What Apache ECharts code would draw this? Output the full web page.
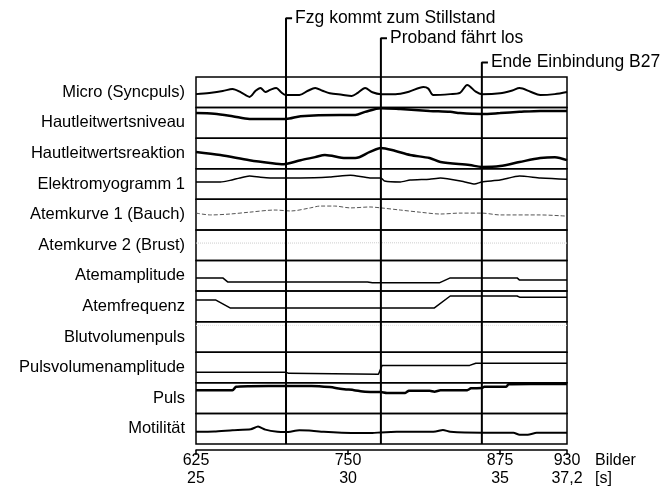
<!DOCTYPE html>
<html><head><meta charset="utf-8">
<script src="https://cdn.jsdelivr.net/npm/echarts@6/dist/echarts.min.js"></script>
<style>html,body{margin:0;padding:0;background:#fff}#c{width:672px;height:496px}</style>
</head><body><div id="c"></div>
<script>
// ---------- DATA ----------
const channelNames = ['Micro (Syncpuls)','Hautleitwertsniveau','Hautleitwertsreaktion','Elektromyogramm 1','Atemkurve 1 (Bauch)','Atemkurve 2 (Brust)','Atemamplitude','Atemfrequenz','Blutvolumenpuls','Pulsvolumenamplitude','Puls','Motilität'];
// values: [frame, level within channel track (0 = bottom, 100 = top)]
const micro = [[625,44],[636,48],[647,54],[655,61],[662,50],[669,35],[674,55],[678,64],[682,51],[686,58],[691,64],[695,50],[699,41],[710,41],[717,55],[723,64],[729,55],[735,47],[745,42],[753,38],[758,48],[764,64],[770,50],[777,44],[789,44],[800,52],[812,67],[816,62],[820,41],[834,44],[842,48],[848,74],[855,52],[860,44],[875,47],[885,56],[891,64],[900,52],[908,41],[920,44],[930,51]];
const hautNiveau = [[625,82],[640,80],[655,72],[669,63],[699,63],[711,72],[743,76],[756,76],[764,86],[777,98],[793,95],[817,89],[834,86],[842,82],[860,79],[875,82],[891,86],[908,89],[930,89]];
const hautReaktion = [[625,55],[645,45],[669,28],[686,19],[697,15],[711,28],[723,38],[731,45],[748,35],[756,35],[768,55],[777,68],[789,58],[801,45],[817,35],[826,22],[850,12],[860,6],[875,9],[891,22],[908,35],[920,38],[930,28]];
const emg = [[625,57],[645,57],[653,62],[661,70],[669,76],[678,72],[686,70],[699,70],[711,70],[735,73],[752,79],[768,70],[777,70],[780,60],[793,57],[801,63],[817,66],[826,70],[846,57],[854,50],[860,57],[875,63],[891,76],[908,70],[930,66]];
const atem1 = [[625,55],[637,49],[653,52],[669,58],[690,65],[703,62],[719,72],[727,78],[739,78],[752,72],[768,75],[777,72],[793,65],[809,58],[826,52],[842,55],[860,55],[875,49],[908,49],[930,45]];
const atem2 = [[625,57],[700,57],[777,58],[860,57],[930,57]];
const atemAmp = [[625,43],[647,43],[651,30],[766,30],[770,27],[825,27],[834,43],[889,43],[891,36],[930,36]];
const atemFreq = [[625,71],[641,71],[653,45],[821,45],[834,84],[889,84],[891,80],[930,80]];
const blutPuls = [[625,88],[700,88],[777,88],[930,88]];
const pulsAmp = [[625,35],[699,35],[701,31],[775,28],[778,57],[850,57],[855,64],[930,64]];
const puls = [[625,76],[655,76],[658,87],[669,89],[700,90],[720,90],[735,86],[745,80],[755,76],[764,71],[777,70],[782,67],[797,67],[800,74],[817,74],[821,71],[826,76],[848,76],[851,82],[860,83],[862,87],[880,87],[882,95],[900,96],[930,96]];
const motil = [[625,40],[640,41],[655,45],[670,48],[676,57],[682,47],[692,40],[699,39],[710,45],[718,44],[730,40],[745,37],[760,36],[770,36],[777,38],[790,40],[810,40],[822,41],[828,46],[834,40],[860,37],[886,37],[891,30],[899,31],[905,37],[930,37]];
const eventFrames = [699, 777, 860];
const eventNames = ['Fzg kommt zum Stillstand','Proband fährt los','Ende Einbindung B27'];
const frameTicks = [625, 750, 875, 930];
const secondTicks = ['25', '30', '35', '37,2'];

// ---------- LAYOUT / STYLE ----------
const FONT = 'Liberation Sans, Arial, sans-serif';
const LEFT = 196, WIDTH = 371, TOP = 77, BOTTOM = 444;
const rowH = (BOTTOM - TOP) / channelNames.length;
const traces = [
  {d: micro, w: 2, smooth: 0.3},
  {d: hautNiveau, w: 2.5, smooth: 0.3},
  {d: hautReaktion, w: 2.5, smooth: 0.3},
  {d: emg, w: 1.5, smooth: 0.2},
  {d: atem1, w: 1, smooth: 0.3, color: '#555', type: 'dashed'},
  {d: atem2, w: 1, smooth: 0, color: '#ccc', type: 'dotted'},
  {d: atemAmp, w: 1.5, smooth: 0},
  {d: atemFreq, w: 1.5, smooth: 0},
  {d: blutPuls, w: 1, smooth: 0, color: '#e4e4e4', type: 'dotted'},
  {d: pulsAmp, w: 1.5, smooth: 0},
  {d: puls, w: 2.5, smooth: 0.2},
  {d: motil, w: 2, smooth: 0.2}
];
const eventLevels = [0.959, 0.914, 0.859]; // label heights of event markers (fraction of overlay height)

const grid = [], xAxis = [], yAxis = [], series = [];
channelNames.forEach((name, i) => {
  grid.push({left: LEFT, width: WIDTH, top: TOP + i * rowH, height: rowH, show: true, borderColor: '#000', borderWidth: 1.5});
  const last = i === channelNames.length - 1;
  xAxis.push({
    gridIndex: i, type: 'value', min: 625, max: 930, interval: 125,
    show: last, position: 'bottom', offset: 6,
    axisLine: {show: true, onZero: false, lineStyle: {color: '#000', width: 1.5}},
    axisTick: {show: true, length: 5, lineStyle: {color: '#000', width: 1.5}},
    splitLine: {show: false},
    axisLabel: {
      show: true, margin: 2, color: '#000', fontSize: 16, fontFamily: FONT, lineHeight: 18,
      showMinLabel: true, showMaxLabel: true,
      formatter: v => { const k = frameTicks.indexOf(v); return k < 0 ? '' : v + '\n' + secondTicks[k]; }
    },
    name: last ? 'Bilder\n[s]' : '', nameLocation: 'end', nameGap: 28,
    nameTextStyle: {color: '#000', fontSize: 16, fontFamily: FONT, align: 'left', verticalAlign: 'top', lineHeight: 18, padding: [2, 0, 0, 0]}
  });
  yAxis.push({
    gridIndex: i, type: 'value', min: 0, max: 100, interval: 50,
    axisLine: {show: false}, axisTick: {show: false}, splitLine: {show: false},
    axisLabel: {margin: 11, color: '#000', fontSize: 16.5, fontFamily: FONT, formatter: v => v === 50 ? name : ''}
  });
  const t = traces[i];
  series.push({
    type: 'line', xAxisIndex: i, yAxisIndex: i, data: t.d, showSymbol: false, smooth: t.smooth,
    lineStyle: {color: t.color || '#000', width: t.w, type: t.type || 'solid'}, silent: true
  });
});

// overlay grid for event markers
const ov = channelNames.length;
grid.push({left: LEFT, width: WIDTH, top: 0, height: BOTTOM, show: false});
xAxis.push({gridIndex: ov, type: 'value', min: 625, max: 930, show: false});
yAxis.push({gridIndex: ov, type: 'value', min: 0, max: 1, show: false});
eventFrames.forEach((f, k) => {
  series.push({
    type: 'line', xAxisIndex: ov, yAxisIndex: ov, showSymbol: false, z: 5, silent: true,
    data: [[f, 0], [f, eventLevels[k]], [f + 5, eventLevels[k]]],
    lineStyle: {color: '#000', width: 2},
    endLabel: {show: true, formatter: eventNames[k], color: '#000', fontSize: 17.5, fontFamily: FONT, distance: 3}
  });
});

const chart = echarts.init(document.getElementById('c'), null, {renderer: 'canvas'});
chart.setOption({animation: false, backgroundColor: '#fff', grid, xAxis, yAxis, series});
</script></body></html>
